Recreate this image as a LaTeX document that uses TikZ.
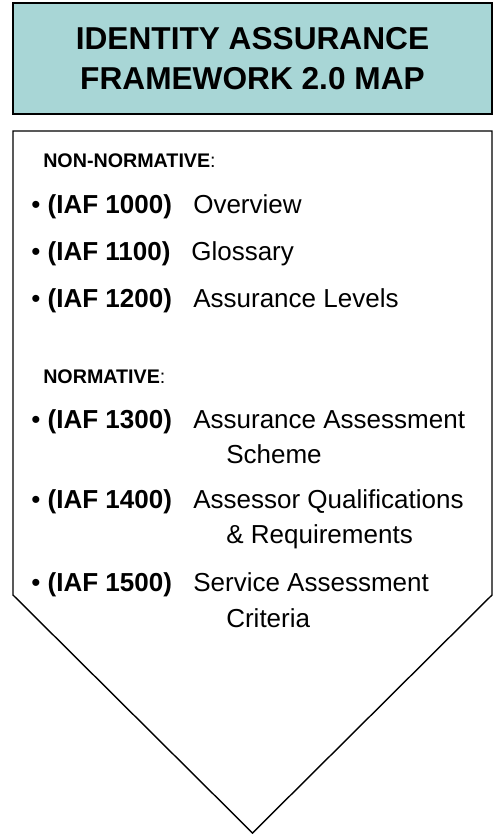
\documentclass[tikz,border=0pt]{standalone}
\usepackage{fontspec}
\setmainfont{Liberation Sans}
\usepackage{xcolor}
\usepackage{tikz}
\usetikzlibrary{positioning}

\definecolor{iafteal}{RGB}{168,214,214}

\begin{document}
\begin{tikzpicture}[
    x=0.025cm, y=-0.025cm,
    banner/.style={rectangle, draw=black, line width=1.5pt, fill=iafteal, minimum width=11.975cm, minimum height=2.775cm, align=center, font=\fontsize{22.5}{28.4}\selectfont\bfseries},
    section/.style={anchor=base west, inner sep=0pt, font=\fontsize{14}{17}\selectfont},
    item/.style={anchor=base west, inner sep=0pt, font=\fontsize{18.5}{25}\selectfont},
    desc/.style={anchor=base west, inner sep=0pt, font=\fontsize{18.5}{25}\selectfont},
    outline/.style={draw=black, line width=1pt, line join=miter}
]
\useasboundingbox (0,0) rectangle (494,835);

% title
\node[banner] (title) at (252.5,58.5) {IDENTITY ASSURANCE\\FRAMEWORK 2.0 MAP};

% arrow body
\coordinate (tl) at (13,131);
\coordinate (tr) at (492,131);
\coordinate (br) at (492,595);
\coordinate (tip) at (252.5,833);
\coordinate (bl) at (13,595);
\draw[outline] (tl) -- (tr) -- (br) -- (tip) -- (bl) -- cycle;

% non-normative part
\node[section] (nonnorm) at (43,167) {\textbf{NON-NORMATIVE}:};
\node[item] (i1000) at (31,213) {• \textbf{(IAF 1000)}};
\node[desc] (d1000) at (193,213) {Overview};
\node[item] (i1100) at (31,260) {• \textbf{(IAF 1100)}};
\node[desc] (d1100) at (191,260) {Glossary};
\node[item] (i1200) at (31,307) {• \textbf{(IAF 1200)}};
\node[desc] (d1200) at (193,307) {Assurance Levels};

% normative part
\node[section] (norm) at (43,383) {\textbf{NORMATIVE}:};
\node[item] (i1300) at (31,428) {• \textbf{(IAF 1300)}};
\node[desc] (d1300) at (193,428) {Assurance Assessment};
\node[desc] (d1300b) at (226,463) {Scheme};
\node[item] (i1400) at (31,508) {• \textbf{(IAF 1400)}};
\node[desc] (d1400) at (193,508) {Assessor Qualifications};
\node[desc] (d1400b) at (226,543) {\& Requirements};
\node[item] (i1500) at (31,591) {• \textbf{(IAF 1500)}};
\node[desc] (d1500) at (193,591) {Service Assessment};
\node[desc] (d1500b) at (226,627) {Criteria};

\end{tikzpicture}
\end{document}
